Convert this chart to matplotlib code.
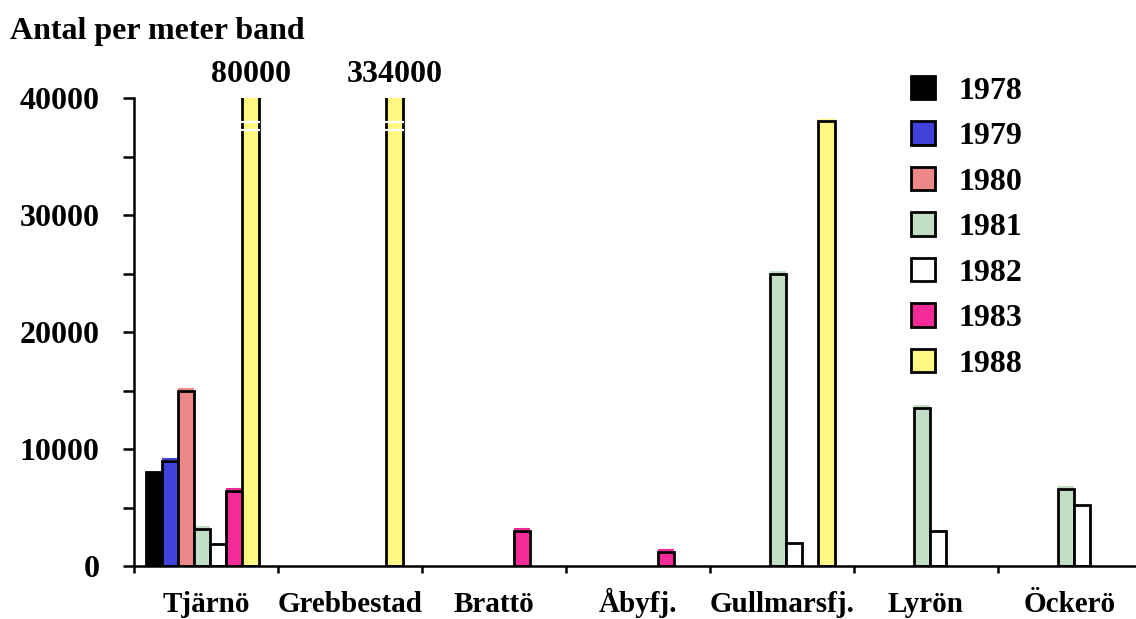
import matplotlib.pyplot as plt
import numpy as np

# stations along the x axis and the yearly series (individuals per metre of band)
sites = ['Tjärnö', 'Grebbestad', 'Brattö', 'Åbyfj.', 'Gullmarsfj.', 'Lyrön', 'Öckerö']
years = ['1978', '1979', '1980', '1981', '1982', '1983', '1988']
nan = np.nan
v1978 = [8000, nan, nan, nan, nan, nan, nan]
v1979 = [9000, nan, nan, nan, nan, nan, nan]
v1980 = [15000, nan, nan, nan, nan, nan, nan]
v1981 = [3200, nan, nan, nan, 25000, 13500, 6600]
v1982 = [1900, nan, nan, nan, 2000, 3000, 5200]
v1983 = [6400, nan, 3000, 1200, nan, nan, nan]
v1988 = [80000, 334000, nan, nan, 38000, nan, nan]
series = [v1978, v1979, v1980, v1981, v1982, v1983, v1988]
colors = ['#000000', '#4141DC', '#EE8888', '#C2DFC6', '#FFFFFF', '#F42A98', '#FFF882']

yticks = [0, 10000, 20000, 30000, 40000]
ymax = 40000

plt.rcParams['font.family'] = ['Liberation Serif', 'DejaVu Serif']
plt.rcParams['font.weight'] = 'bold'

fig = plt.figure(figsize=(11.36, 6.19), dpi=100)
W, H = 1136, 619
ax = fig.add_axes([134 / W, 53 / H, 1002 / W, 468 / H])

x = np.arange(len(sites))
first, step = 0.139, 0.1117
bars = []
for j, (vals, c) in enumerate(zip(series, colors)):
    b = ax.bar(x + first + step * j, vals, width=step, color=c,
               edgecolor='black', linewidth=2.0, label=years[j], zorder=2)
    bars.append(b)
    # thin coloured rim just above each outline (old-style shading)
    for rect in b:
        h = rect.get_height()
        if np.isfinite(h) and h < ymax and c not in ('#FFFFFF', '#000000'):
            ax.plot([rect.get_x(), rect.get_x() + rect.get_width()],
                    [h + 140, h + 140], color=c, lw=1.5, zorder=1.9,
                    solid_capstyle='butt')

ax.set_xlim(0, 1002 / 144)
ax.set_ylim(0, ymax)

# break marks and real values for the bars that run off the scale
for rect, val in zip(bars[-1], v1988):
    if np.isfinite(val) and val > ymax:
        x0, w = rect.get_x(), rect.get_width()
        for yy in (ymax * 0.948, ymax * 0.931):
            ax.plot([x0 - 0.01, x0 + w + 0.01], [yy, yy], color='white',
                    lw=1.6, zorder=3, solid_capstyle='butt')
        ax.text(x0 + w / 2, ymax * 1.02, str(int(val)),
                ha='center', va='bottom', fontsize=23, fontweight='bold')

ax.spines['top'].set_visible(False)
ax.spines['right'].set_visible(False)
for s in ('left', 'bottom'):
    ax.spines[s].set_linewidth(1.8)

ax.set_yticks(yticks)
ax.set_yticklabels([str(t) for t in yticks])
ax.set_yticks(np.arange(5000, ymax, 10000), minor=True)
ax.tick_params(axis='y', which='both', direction='out', length=8, width=1.8,
               labelsize=23, pad=17)

ax.set_xticks(np.arange(0, len(sites)))
ax.set_xticklabels([])
ax.set_xticks(x + 0.5, minor=True)
ax.set_xticklabels(sites, minor=True)
ax.tick_params(axis='x', which='major', direction='out', length=5, width=1.8)
ax.tick_params(axis='x', which='minor', length=0, labelsize=21, pad=33)
for lab in ax.get_xticklabels(minor=True):
    lab.set_va('baseline')

fig.text(10 / W, 1 - 31 / H, 'Antal per meter band', fontsize=23,
         fontweight='bold', va='center', ha='left')

leg = ax.legend(loc='upper left', bbox_to_anchor=(898 / W, 1 - 63 / H),
                bbox_transform=fig.transFigure, frameon=False, fontsize=23,
                handlelength=0.75, handleheight=0.75, handletextpad=0.75,
                labelspacing=0.49, borderaxespad=0)

fig.savefig('out.png', dpi=100)
